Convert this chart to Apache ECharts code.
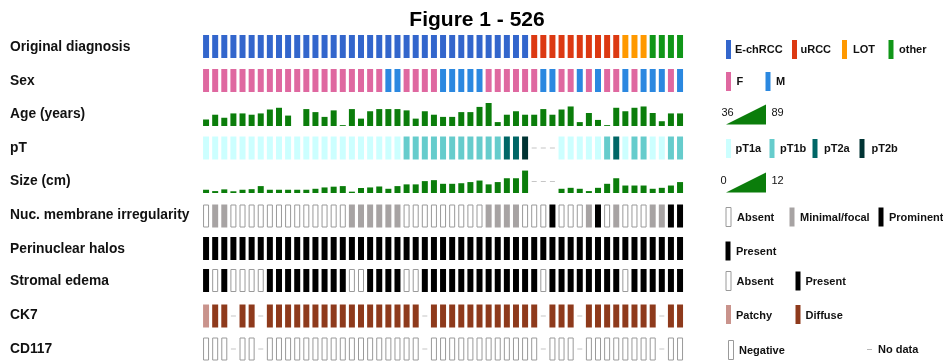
<!DOCTYPE html>
<html>
<head>
<meta charset="utf-8">
<script src="https://cdn.jsdelivr.net/npm/echarts@6/dist/echarts.min.js"></script>
<style>
  html, body { margin: 0; padding: 0; background: #fff; }
  #chart { width: 943px; height: 361px; }
</style>
</head>
<body>
<div id="chart"></div>
<script>
// ---- Per-case annotations (one entry per case, left to right) ----
const caseIds = ['1','2','3','4','5','6','7','8','9','10','11','12','13','14','15','16','17','18','19','20',
  '21','22','23','24','25','26','27','28','29','30','31','32','33','34','35','36','37','38','39','40',
  '41','42','43','44','45','46','47','48','49','50','51','52','53'];

const diagnosis = [
  'E-chRCC','E-chRCC','E-chRCC','E-chRCC','E-chRCC','E-chRCC','E-chRCC','E-chRCC','E-chRCC','E-chRCC',
  'E-chRCC','E-chRCC','E-chRCC','E-chRCC','E-chRCC','E-chRCC','E-chRCC','E-chRCC','E-chRCC','E-chRCC',
  'E-chRCC','E-chRCC','E-chRCC','E-chRCC','E-chRCC','E-chRCC','E-chRCC','E-chRCC','E-chRCC','E-chRCC',
  'E-chRCC','E-chRCC','E-chRCC','E-chRCC','E-chRCC','E-chRCC','uRCC','uRCC','uRCC','uRCC',
  'uRCC','uRCC','uRCC','uRCC','uRCC','uRCC','LOT','LOT','LOT','other',
  'other','other','other'];

const sex = [
  'F','F','F','F','F','F','F','F','F','F',
  'F','F','F','F','F','F','F','F','F','F',
  'M','M','F','F','F','F','M','M','M','M',
  'M','F','F','F','F','F','F','M','M','F',
  'F','M','F','M','F','F','M','F','M','M',
  'M','F','M'];

const ageYears = [
  51, 62, 55, 65, 65, 62, 65, 74, 78, 60,
  36, 75, 68, 57, 72, 38, 75, 53, 70, 75,
  75, 75, 72, 53, 70, 62, 57, 57, 68, 68,
  80, 89, 45, 62, 70, 62, 62, 75, 62, 74,
  81, 45, 66, 50, 38, 78, 70, 78, 81, 66,
  47, 65, 65];
const ageRange = [36, 89];

const pT = [
  'pT1a','pT1a','pT1a','pT1a','pT1a','pT1a','pT1a','pT1a','pT1a','pT1a',
  'pT1a','pT1a','pT1a','pT1a','pT1a','pT1a','pT1a','pT1a','pT1a','pT1a',
  'pT1a','pT1a','pT1b','pT1b','pT1b','pT1b','pT1b','pT1b','pT1b','pT1b',
  'pT1b','pT1b','pT1b','pT2a','pT2a','pT2b',null,null,null,'pT1a',
  'pT1a','pT1a','pT1a','pT1a','pT1b','pT2a','pT1a','pT1b','pT1b','pT1a',
  'pT1a','pT1b','pT1b'];

const sizeCm = [
  1.7, 1.0, 1.9, 0.9, 1.7, 2.0, 3.6, 1.7, 1.7, 1.7,
  1.7, 1.7, 2.2, 2.9, 3.3, 3.6, 0.7, 2.6, 2.9, 3.4,
  2.2, 3.6, 4.5, 4.5, 6.2, 6.7, 4.8, 4.8, 5.1, 5.7,
  6.5, 4.5, 5.7, 7.7, 7.7, 11.7, null, null, null, 2.2,
  2.7, 2.2, 1.0, 2.7, 4.8, 7.7, 3.9, 3.9, 3.9, 2.2,
  2.7, 3.9, 5.7];
const sizeRange = [0, 12];

const nucIrregularity = [
  'Absent','Minimal/focal','Minimal/focal','Absent','Absent','Absent','Absent','Absent','Absent','Absent',
  'Absent','Absent','Absent','Absent','Absent','Absent','Minimal/focal','Minimal/focal','Minimal/focal','Minimal/focal',
  'Minimal/focal','Minimal/focal','Absent','Absent','Absent','Absent','Absent','Absent','Absent','Absent',
  'Absent','Minimal/focal','Minimal/focal','Minimal/focal','Minimal/focal','Absent','Absent','Absent','Prominent','Absent',
  'Absent','Absent','Minimal/focal','Prominent','Absent','Minimal/focal','Absent','Absent','Absent','Minimal/focal',
  'Minimal/focal','Prominent','Prominent'];

const perinuclearHalos = [
  'Present','Present','Present','Present','Present','Present','Present','Present','Present','Present',
  'Present','Present','Present','Present','Present','Present','Present','Present','Present','Present',
  'Present','Present','Present','Present','Present','Present','Present','Present','Present','Present',
  'Present','Present','Present','Present','Present','Present','Present','Present','Present','Present',
  'Present','Present','Present','Present','Present','Present','Present','Present','Present','Present',
  'Present','Present','Present'];

const stromalEdema = [
  'Present','Absent','Present','Absent','Absent','Absent','Absent','Present','Present','Present',
  'Present','Present','Present','Present','Present','Present','Absent','Absent','Present','Present',
  'Present','Present','Absent','Absent','Present','Present','Present','Present','Present','Present',
  'Present','Present','Present','Present','Present','Present','Present','Absent','Present','Present',
  'Present','Present','Present','Present','Present','Present','Absent','Present','Present','Present',
  'Present','Present','Present'];

const ck7 = [
  'Patchy','Diffuse','Diffuse',null,'Diffuse','Diffuse',null,'Diffuse','Diffuse','Diffuse',
  'Diffuse','Diffuse','Diffuse','Diffuse','Diffuse','Diffuse','Diffuse','Diffuse','Diffuse','Diffuse',
  'Diffuse','Diffuse','Diffuse','Diffuse',null,'Diffuse','Diffuse','Diffuse','Diffuse','Diffuse',
  'Diffuse','Diffuse','Diffuse','Diffuse','Diffuse','Diffuse','Diffuse',null,'Diffuse','Diffuse',
  'Diffuse',null,'Diffuse','Diffuse','Diffuse','Diffuse','Diffuse','Diffuse','Diffuse','Diffuse',
  null,'Diffuse','Diffuse'];

const cd117 = [
  'Negative','Negative','Negative',null,'Negative','Negative',null,'Negative','Negative','Negative',
  'Negative','Negative','Negative','Negative','Negative','Negative','Negative','Negative','Negative','Negative',
  'Negative','Negative','Negative','Negative',null,'Negative','Negative','Negative','Negative','Negative',
  'Negative','Negative','Negative','Negative','Negative','Negative','Negative',null,'Negative','Negative',
  'Negative',null,'Negative','Negative','Negative','Negative','Negative','Negative','Negative','Negative',
  null,'Negative','Negative'];

// ---- Styling ----
const FONT = '"Liberation Sans", Arial, Helvetica, sans-serif';
const GREEN = '#0b7d0b';
const OUTLINE = { color: '#ffffff', borderColor: '#9a9a9a', borderWidth: 1 };
const solid = c => ({ color: c });

const styles = {
  diagnosis: { 'E-chRCC': solid('#3366cc'), 'uRCC': solid('#dc3912'), 'LOT': solid('#ff9900'), 'other': solid('#109618') },
  sex: { F: solid('#df68a0'), M: solid('#2b88e0') },
  pT: { pT1a: solid('#ccffff'), pT1b: solid('#66cccc'), pT2a: solid('#006666'), pT2b: solid('#003333') },
  nuc: { 'Absent': OUTLINE, 'Minimal/focal': solid('#a7a3a3'), 'Prominent': solid('#000000') },
  halos: { 'Present': solid('#000000') },
  edema: { 'Absent': OUTLINE, 'Present': solid('#000000') },
  ck7: { 'Patchy': solid('#c9938c'), 'Diffuse': solid('#8e3a1c') },
  cd117: { 'Negative': OUTLINE }
};

const rows = [
  { label: 'Original diagnosis', kind: 'cat', values: diagnosis, styles: styles.diagnosis },
  { label: 'Sex', kind: 'cat', values: sex, styles: styles.sex },
  { label: 'Age (years)', kind: 'num', values: ageYears, range: ageRange },
  { label: 'pT', kind: 'cat', values: pT, styles: styles.pT },
  { label: 'Size (cm)', kind: 'num', values: sizeCm, range: sizeRange },
  { label: 'Nuc. membrane irregularity', kind: 'cat', values: nucIrregularity, styles: styles.nuc },
  { label: 'Perinuclear halos', kind: 'cat', values: perinuclearHalos, styles: styles.halos },
  { label: 'Stromal edema', kind: 'cat', values: stromalEdema, styles: styles.edema },
  { label: 'CK7', kind: 'cat', values: ck7, styles: styles.ck7 },
  { label: 'CD117', kind: 'cat', values: cd117, styles: styles.cd117 }
];

// ---- Layout ----
const GRID_LEFT = 201.5, GRID_WIDTH = 483.1, ROW_H = 23;
const rowTops = [35, 69, 103, 136.5, 170, 204.5, 237, 269, 304.5, 337.5];
const labelY = [48.5, 82, 115.5, 149, 182.5, 216.5, 250, 282.5, 316, 350];

const grid = [], xAxis = [], yAxis = [], series = [], graphic = [];

rows.forEach((row, r) => {
  const [ymin, ymax] = row.kind === 'num' ? row.range : [0, 1];
  grid.push({ left: GRID_LEFT, width: GRID_WIDTH, top: rowTops[r], height: ROW_H });
  xAxis.push({ type: 'category', gridIndex: r, data: caseIds, show: false, boundaryGap: true });
  yAxis.push({ type: 'value', gridIndex: r, min: ymin, max: ymax, show: false });

  const barData = row.values.map(v => {
    if (v == null) return '-';
    if (row.kind === 'num') return v;
    return { value: 1, itemStyle: row.styles[v] };
  });
  series.push({
    type: 'bar', xAxisIndex: r, yAxisIndex: r, barWidth: 6,
    barMinHeight: row.kind === 'num' ? 1 : 0,
    itemStyle: { color: GREEN }, data: barData, silent: true
  });

  // short grey dash where no value was recorded
  const missing = [];
  row.values.forEach((v, i) => { if (v == null) missing.push([i, (ymin + ymax) / 2]); });
  if (missing.length) {
    series.push({
      type: 'scatter', xAxisIndex: r, yAxisIndex: r, symbol: 'rect', symbolSize: [5, 1],
      itemStyle: { color: '#b8b8b8' }, data: missing, silent: true
    });
  }

  graphic.push({
    type: 'text', left: 10, top: labelY[r] - 8,
    style: { text: row.label, font: 'bold 13.8px ' + FONT, fill: '#111' }
  });
});

// ---- Title ----
graphic.push({
  type: 'text', x: 477, y: 20.5,
  style: { text: 'Figure 1 - 526', font: 'bold 21px ' + FONT, fill: '#000',
           textAlign: 'center', textVerticalAlign: 'middle' }
});

// ---- Legend keys ----
function swatch(x, cy, st, w) {
  const width = w || 5;
  graphic.push({
    type: 'rect', shape: { x: x, y: cy - 9.5, width: width, height: 19 },
    style: { fill: st.color, stroke: st.borderColor || null, lineWidth: st.borderWidth || 0 }
  });
}
function keyText(x, cy, text, bold) {
  graphic.push({
    type: 'text', x: x, y: cy,
    style: { text: text, font: (bold === false ? '' : 'bold ') + '11px ' + FONT, fill: '#111',
             textVerticalAlign: 'middle' }
  });
}
function ramp(y0, lo, hi) {
  graphic.push({
    type: 'polygon', shape: { points: [[726, y0], [766, y0], [766, y0 - 20]] },
    style: { fill: GREEN }
  });
  keyText(lo.length > 1 ? 721.5 : 720.5, y0 - 12, lo, false);
  keyText(771.5, y0 - 12, hi, false);
}

// diagnosis
swatch(726, 49.5, styles.diagnosis['E-chRCC']); keyText(735, 50, 'E-chRCC');
swatch(792, 49.5, styles.diagnosis['uRCC']);    keyText(800.5, 50, 'uRCC');
swatch(842, 49.5, styles.diagnosis['LOT']);     keyText(853, 50, 'LOT');
swatch(888.5, 49.5, styles.diagnosis['other']); keyText(899, 50, 'other');
// sex
swatch(726, 81.5, styles.sex.F); keyText(736.5, 82, 'F');
swatch(765.5, 81.5, styles.sex.M); keyText(776, 82, 'M');
// age ramp
ramp(124.5, String(ageRange[0]), String(ageRange[1]));
// pT
swatch(726, 148.5, styles.pT.pT1a);   keyText(735.5, 149, 'pT1a');
swatch(769.5, 148.5, styles.pT.pT1b); keyText(780, 149, 'pT1b');
swatch(812.5, 148.5, styles.pT.pT2a); keyText(824, 149, 'pT2a');
swatch(859.5, 148.5, styles.pT.pT2b); keyText(871.5, 149, 'pT2b');
// size ramp
ramp(192.5, String(sizeRange[0]), String(sizeRange[1]));
// nuclear membrane irregularity
swatch(726, 217, OUTLINE);                      keyText(737, 218, 'Absent');
swatch(789.5, 217, styles.nuc['Minimal/focal']); keyText(800, 218, 'Minimal/focal');
swatch(878.5, 217, styles.nuc['Prominent']);     keyText(889, 218, 'Prominent');
// perinuclear halos
swatch(725.5, 251, styles.halos['Present']); keyText(736, 252, 'Present');
// stromal edema
swatch(726, 281, OUTLINE);                    keyText(736.5, 282, 'Absent');
swatch(795.5, 281, styles.edema['Present']);  keyText(805.5, 282, 'Present');
// CK7
swatch(726, 314.5, styles.ck7['Patchy']);  keyText(736, 315.5, 'Patchy');
swatch(795.5, 314.5, styles.ck7['Diffuse']); keyText(805.5, 315.5, 'Diffuse');
// CD117 and missing values
swatch(728.5, 350, OUTLINE); keyText(739, 350.5, 'Negative');
graphic.push({ type: 'rect', shape: { x: 867, y: 349, width: 5, height: 1 }, style: { fill: '#b8b8b8' } });
keyText(878, 350, 'No data');

const chart = echarts.init(document.getElementById('chart'), null, { renderer: 'canvas' });
chart.setOption({
  animation: false,
  backgroundColor: '#fff',
  grid, xAxis, yAxis, series, graphic
});
</script>
</body>
</html>
